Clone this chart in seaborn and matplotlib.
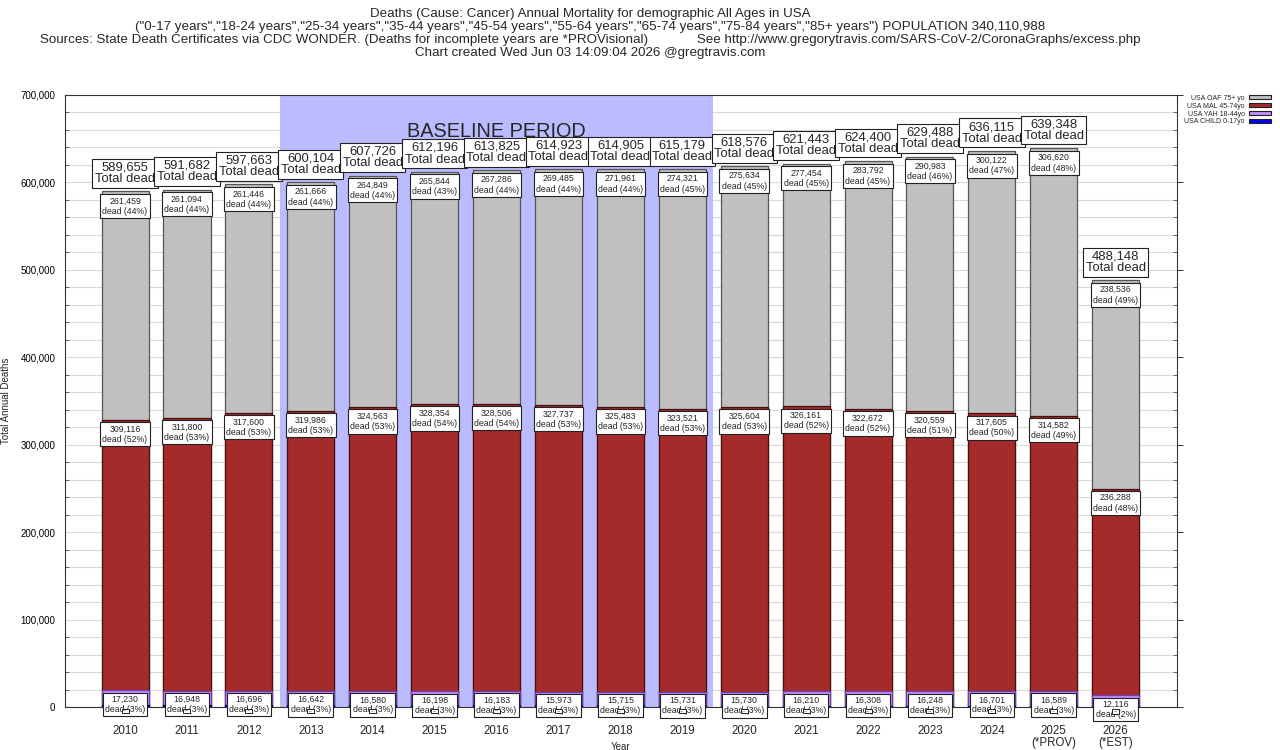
import numpy as np
import matplotlib
matplotlib.use("Agg")
import matplotlib.pyplot as plt
import matplotlib.patches as mpatches
from matplotlib.ticker import MultipleLocator, FuncFormatter
import seaborn as sns

YEARS = ["2010", "2011", "2012", "2013", "2014", "2015", "2016", "2017", "2018",
         "2019", "2020", "2021", "2022", "2023", "2024", "2025\n(*PROV)", "2026\n(*EST)"]

TOTAL = [589655, 591682, 597663, 600104, 607726, 612196, 613825, 614923, 614905,
         615179, 618576, 621443, 624400, 629488, 636115, 639348, 488148]
OAF = [261459, 261094, 261446, 261666, 264849, 265844, 267286, 269485, 271961,
       274321, 275634, 277454, 283792, 290983, 300122, 306620, 238536]
OAF_PCT = [44, 44, 44, 44, 44, 43, 44, 44, 44, 45, 45, 45, 45, 46, 47, 48, 49]
MAL = [309116, 311800, 317600, 319986, 324563, 328354, 328506, 327737, 325483,
       323521, 325604, 326161, 322672, 320559, 317605, 314582, 236288]
MAL_PCT = [52, 53, 53, 53, 53, 54, 54, 53, 53, 53, 53, 52, 52, 51, 50, 49, 48]
YAH = [17230, 16948, 16696, 16642, 16580, 16198, 16183, 15973, 15715,
       15731, 15730, 16210, 16308, 16248, 16701, 16589, 12116]
YAH_PCT = [3, 3, 3, 3, 3, 3, 3, 3, 3, 3, 3, 3, 3, 3, 3, 3, 2]
CHILD = [1850, 1840, 1921, 1810, 1734, 1800, 1850, 1728, 1746,
         1606, 1608, 1618, 1628, 1698, 1687, 1557, 1208]

BASELINE = (2.5, 9.5)   # 2013..2019 in category positions

COLORS = {
    "USA OAF 75+ yo":   "#C0C0C0",
    "USA MAL 45-74yo":  "#A52A2A",
    "USA YAH 18-44yo":  "#C08CFF",
    "USA CHILD 0-17yo": "#0000FF",
}

TITLE = [
    "Deaths (Cause: Cancer) Annual Mortality for demographic All Ages in USA",
    '("0-17 years","18-24 years","25-34 years","35-44 years","45-54 years","55-64 years",'
    '"65-74 years","75-84 years","85+ years") POPULATION 340,110,988',
    "Sources: State Death Certificates via CDC WONDER. (Deaths for incomplete years are "
    "*PROVisional)             See http://www.gregorytravis.com/SARS-CoV-2/CoronaGraphs/excess.php",
    "Chart created Wed Jun 03 14:09:04 2026 @gregtravis.com",
]

sns.set_style("white")
plt.rcParams["font.family"] = ["Liberation Sans", "DejaVu Sans"]

child = np.array(CHILD)
yah_top = child + np.array(YAH)
mal_top = yah_top + np.array(MAL)
tot_top = np.array(TOTAL)

fig = plt.figure(figsize=(12.8, 7.5), dpi=100)
ax = fig.add_axes([65 / 1280, 43 / 750, 1112 / 1280, 612 / 750])

ax.axvspan(*BASELINE, color="#BBBBFF", zorder=0.6, lw=0)

layers = [
    (tot_top, "USA OAF 75+ yo", "#555555"),
    (mal_top, "USA MAL 45-74yo", "#4a1010"),
    (yah_top, "USA YAH 18-44yo", "#6a3fb0"),
    (child, "USA CHILD 0-17yo", "#000080"),
]
for heights, name, edge in layers:
    sns.barplot(x=YEARS, y=heights, order=YEARS, color=COLORS[name], saturation=1,
                width=0.76, edgecolor=edge, linewidth=0.9, errorbar=None, ax=ax)

box = dict(boxstyle="square,pad=0.2", fc="white", ec="#222222", lw=0.8)
sbox = dict(boxstyle="square,pad=0.25", fc="white", ec="#222222", lw=0.8)
for i in range(len(YEARS)):
    ax.annotate(f"{TOTAL[i]:,}\nTotal dead", (i, tot_top[i]), xytext=(0, 4.5),
                textcoords="offset points", ha="center", va="bottom", fontsize=9.4,
                linespacing=0.95, bbox=box, zorder=6)
    ax.annotate(f"{OAF[i]:,}\ndead ({OAF_PCT[i]}%)", (i, tot_top[i]), xytext=(0, -3.5),
                textcoords="offset points", ha="center", va="top", fontsize=6.3,
                linespacing=1.25, bbox=sbox, zorder=5)
    ax.annotate(f"{MAL[i]:,}\ndead ({MAL_PCT[i]}%)", (i, mal_top[i]), xytext=(0, -3.2),
                textcoords="offset points", ha="center", va="top", fontsize=6.3,
                linespacing=1.25, bbox=sbox, zorder=5)
    ax.annotate(f"{YAH[i]:,}\ndead ({YAH_PCT[i]}%)", (i, yah_top[i]), xytext=(0, -3.2),
                textcoords="offset points", ha="center", va="top", fontsize=6.3,
                linespacing=1.15, bbox=sbox, zorder=5)
    ax.annotate(f"{CHILD[i]:,}", (i, child[i]), xytext=(0, -3.5),
                textcoords="offset points", ha="center", va="top", fontsize=1.2,
                bbox=dict(boxstyle="square,pad=0.9", fc="white", ec="#222222", lw=0.7),
                zorder=6)

ax.text(sum(BASELINE) / 2, 0.94, "BASELINE PERIOD", transform=ax.get_xaxis_transform(),
        ha="center", va="center", fontsize=14.3, zorder=2)

ax.set_xlim(-0.97, len(YEARS) - 1 + 0.99)
ax.set_ylim(0, 700000)
ax.yaxis.set_major_locator(MultipleLocator(100000))
ax.yaxis.set_minor_locator(MultipleLocator(20000))
ax.yaxis.set_major_formatter(FuncFormatter(lambda v, _: f"{int(v):,}"))
ax.set_axisbelow(True)
ax.grid(axis="y", which="both", color="#DADADA", lw=0.8)
ax.grid(axis="x", visible=False)
for s in ax.spines.values():
    s.set_color("#333333")
    s.set_linewidth(0.8)

ax.tick_params(axis="y", which="major", direction="out", length=4, width=0.7,
               labelsize=7, pad=3, right=True, colors="#333333", labelcolor="black")
ax.tick_params(axis="y", which="minor", direction="in", length=3, width=0.6,
               left=True, right=True, colors="#555555")
ax.tick_params(axis="x", length=0, labelsize=8.3, pad=13)
for t in ax.get_xticklabels():
    t.set_linespacing(0.95)

ax.set_xlabel("Year", fontsize=7)
ax.xaxis.set_label_coords(0.5, -0.057)
ax.set_ylabel("Total Annual Deaths", fontsize=7)
ax.yaxis.set_label_coords(-0.049, 0.5)

for k, text in enumerate(TITLE):
    fig.text(590 / 1280, 1 - (14 + 13 * k) / 750, text, ha="center", va="center",
             fontsize=9.6)

handles = [mpatches.Patch(fc=c, ec="#222222", lw=0.8) for c in COLORS.values()]
fig.legend(handles, list(COLORS.keys()), loc="upper right", bbox_to_anchor=(0.997, 0.88),
           frameon=False, fontsize=5, markerfirst=False, handlelength=3.2, handleheight=0.55,
           labelspacing=0.12, handletextpad=0.6, borderpad=0.2)

fig.savefig("out.png", dpi=100)
plt.close(fig)
